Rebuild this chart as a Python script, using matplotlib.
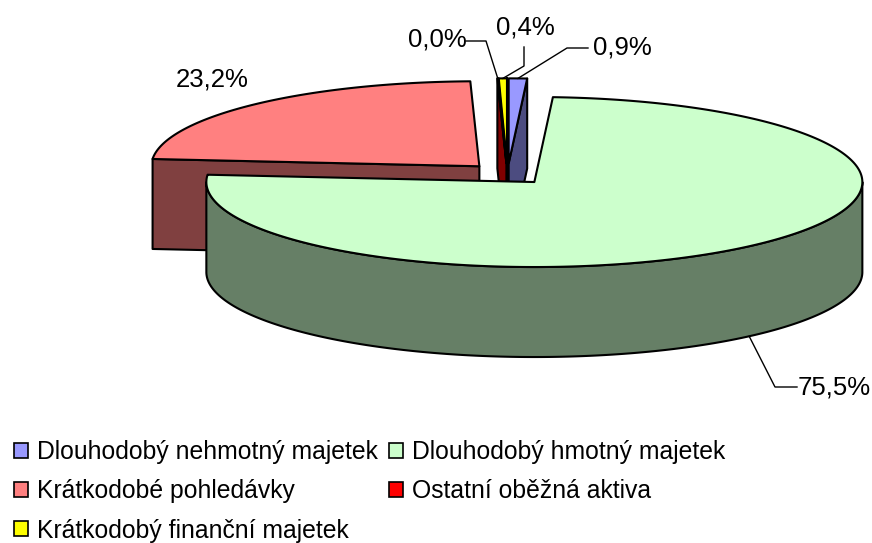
"""Exploded 3D pie of assets, drawn as plain polygons"""

import numpy as np
import matplotlib
matplotlib.use('Agg')
import matplotlib.pyplot as plt
from matplotlib.patches import Patch

plt.rcParams['font.family'] = ['Liberation Sans', 'DejaVu Sans']

categories = ['Dlouhodobý nehmotný majetek', 'Dlouhodobý hmotný majetek',
	'Krátkodobé pohledávky', 'Ostatní oběžná aktiva', 'Krátkodobý finanční majetek']
values = [0.9, 75.5, 23.2, 0.04, 0.4]
top_colors = ['#9999FF', '#CCFFCC', '#FF8080', '#FF0000', '#FFFF00']
side_colors = ['#4C4C80', '#667F66', '#804040', '#800000', '#808000']

# pie geometry, in figure pixels
CX, CY = 507.5, 174.0
RX, RY = 328.0, 85.0
DEPTH = 90.0
EXPLODE = 0.125

# text centre, leader elbows for each slice label
label_pos = [(622, 48), (834, 387), (212, 79), (437, 40), (525, 27)]
leader_elbows = [[(567, 48), (588, 48)], [(775, 387), (797, 387)], None,
	[(486, 41), (466, 41)], [(524, 66), (524, 47)]]

def rim(apex, a0, a1):
	"""points on the top rim, angles clockwise from 12 o'clock"""
	t = np.radians(np.linspace(a0, a1, max(int(abs(a1 - a0) * 2), 2)))
	return apex[0] + RX * np.sin(t), apex[1] - RY * np.cos(t)

def draw_face(ax, xs, ys, color, z):
	ax.fill(xs, ys, facecolor = color, edgecolor = 'black', linewidth = 1.5,
		joinstyle = 'round', zorder = z)

def draw_slice(ax, a0, a1, i, z):
	mid = np.radians((a0 + a1) / 2)
	apex = (CX + EXPLODE * RX * np.sin(mid), CY - EXPLODE * RY * np.cos(mid))
	color = side_colors[i]

	# flat cut faces, only those turned to the viewer
	for a, visible in ((a0, np.sin(np.radians(a0)) < 0), (a1, np.sin(np.radians(a1)) > 0)):
		if visible:
			x, y = rim(apex, a, a)
			draw_face(ax, [apex[0], x[0], x[0], apex[0]],
				[apex[1], y[0], y[0] + DEPTH, apex[1] + DEPTH], color, z)

	# outer wall, lower half of the ellipse only
	w0, w1 = max(a0, 90), min(a1, 270)
	if w0 < w1:
		x, y = rim(apex, w0, w1)
		draw_face(ax, np.r_[x, x[::-1]], np.r_[y, y[::-1] + DEPTH], color, z + 0.1)

	x, y = rim(apex, a0, a1)
	draw_face(ax, np.r_[apex[0], x], np.r_[apex[1], y], top_colors[i], z + 0.2)
	return apex

fig = plt.figure(figsize = (8.72, 5.43), dpi = 100)
ax = fig.add_axes([0, 0, 1, 1])
ax.set_xlim(0, 872)
ax.set_ylim(543, 0)
ax.axis('off')

total = sum(values)
edges = np.r_[0, np.cumsum(values)] / total * 360
draw_order = [2, 4, 3, 0, 1]

for z, i in enumerate(draw_order):
	apex = draw_slice(ax, edges[i], edges[i + 1], i, z + 1)
	mid = (edges[i] + edges[i + 1]) / 2
	x, y = rim(apex, mid, mid)
	tip_y = y[0] + DEPTH if 90 < mid < 270 else y[0]
	if leader_elbows[i]:
		pts = [(x[0], tip_y)] + leader_elbows[i]
		ax.plot([p[0] for p in pts], [p[1] for p in pts], color = 'black',
			linewidth = 1, zorder = 10)
	lab = ('%.1f%%' % values[i]).replace('.', ',')
	ax.text(label_pos[i][0], label_pos[i][1], lab, fontsize = 18.5, ha = 'center',
		va = 'center', color = 'black', zorder = 11)

# column by column, so the rows read as in the source chart
legend_order = [0, 2, 4, 1, 3]
handles = [Patch(facecolor = top_colors[i], edgecolor = 'black', linewidth = 1.2,
	label = categories[i]) for i in legend_order]
ax.legend(handles = handles, ncol = 2, loc = 'upper left', frameon = False,
	bbox_to_anchor = (14 / 872, 1 - 440 / 543), borderaxespad = 0, borderpad = 0,
	fontsize = 17.8, handlelength = 0.55, handleheight = 0.55, handletextpad = 0.38,
	labelspacing = 0.62, columnspacing = 0.47)

fig.savefig('out.png', dpi = 100)
